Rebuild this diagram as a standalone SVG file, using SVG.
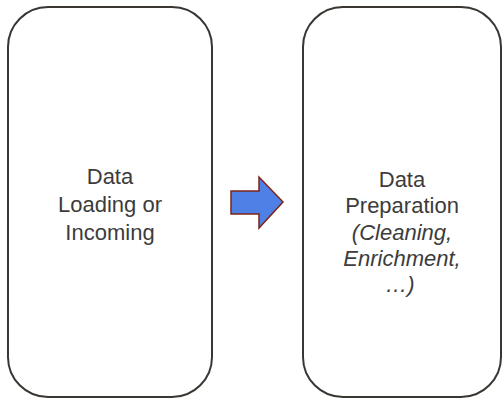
<svg xmlns="http://www.w3.org/2000/svg" width="503" height="398" viewBox="0 0 503 398">
  <style>
    .box { fill: #ffffff; stroke: #3a3632; stroke-width: 2; }
    .label { font-family: "Liberation Sans", Arial, sans-serif; font-size: 22px; fill: #3c3c3c; text-anchor: middle; }
    .it { font-style: italic; }
    .flow { fill: #4f80e6; stroke: #7e2418; stroke-width: 1.5; stroke-linejoin: miter; }
  </style>
  <rect width="503" height="398" fill="#ffffff"/>

  <g id="loading">
    <rect class="box" x="8" y="7" width="204" height="390" rx="40" ry="40"/>
    <text class="label" x="110" y="184">Data</text>
    <text class="label" x="110" y="212">Loading or</text>
    <text class="label" x="110" y="240">Incoming</text>
  </g>

  <g id="preparation">
    <rect class="box" x="303" y="7" width="198" height="390" rx="40" ry="40"/>
    <text class="label" x="402" y="187">Data</text>
    <text class="label" x="402" y="213">Preparation</text>
    <text class="label it" x="402" y="240">(Cleaning,</text>
    <text class="label it" x="402" y="266">Enrichment,</text>
    <text class="label it" x="400" y="292">…)</text>
  </g>

  <g id="connectors">
    <polygon class="flow" points="231,191 259,191 259,177 283,202 259,228 259,214 231,214"/>
  </g>
</svg>
